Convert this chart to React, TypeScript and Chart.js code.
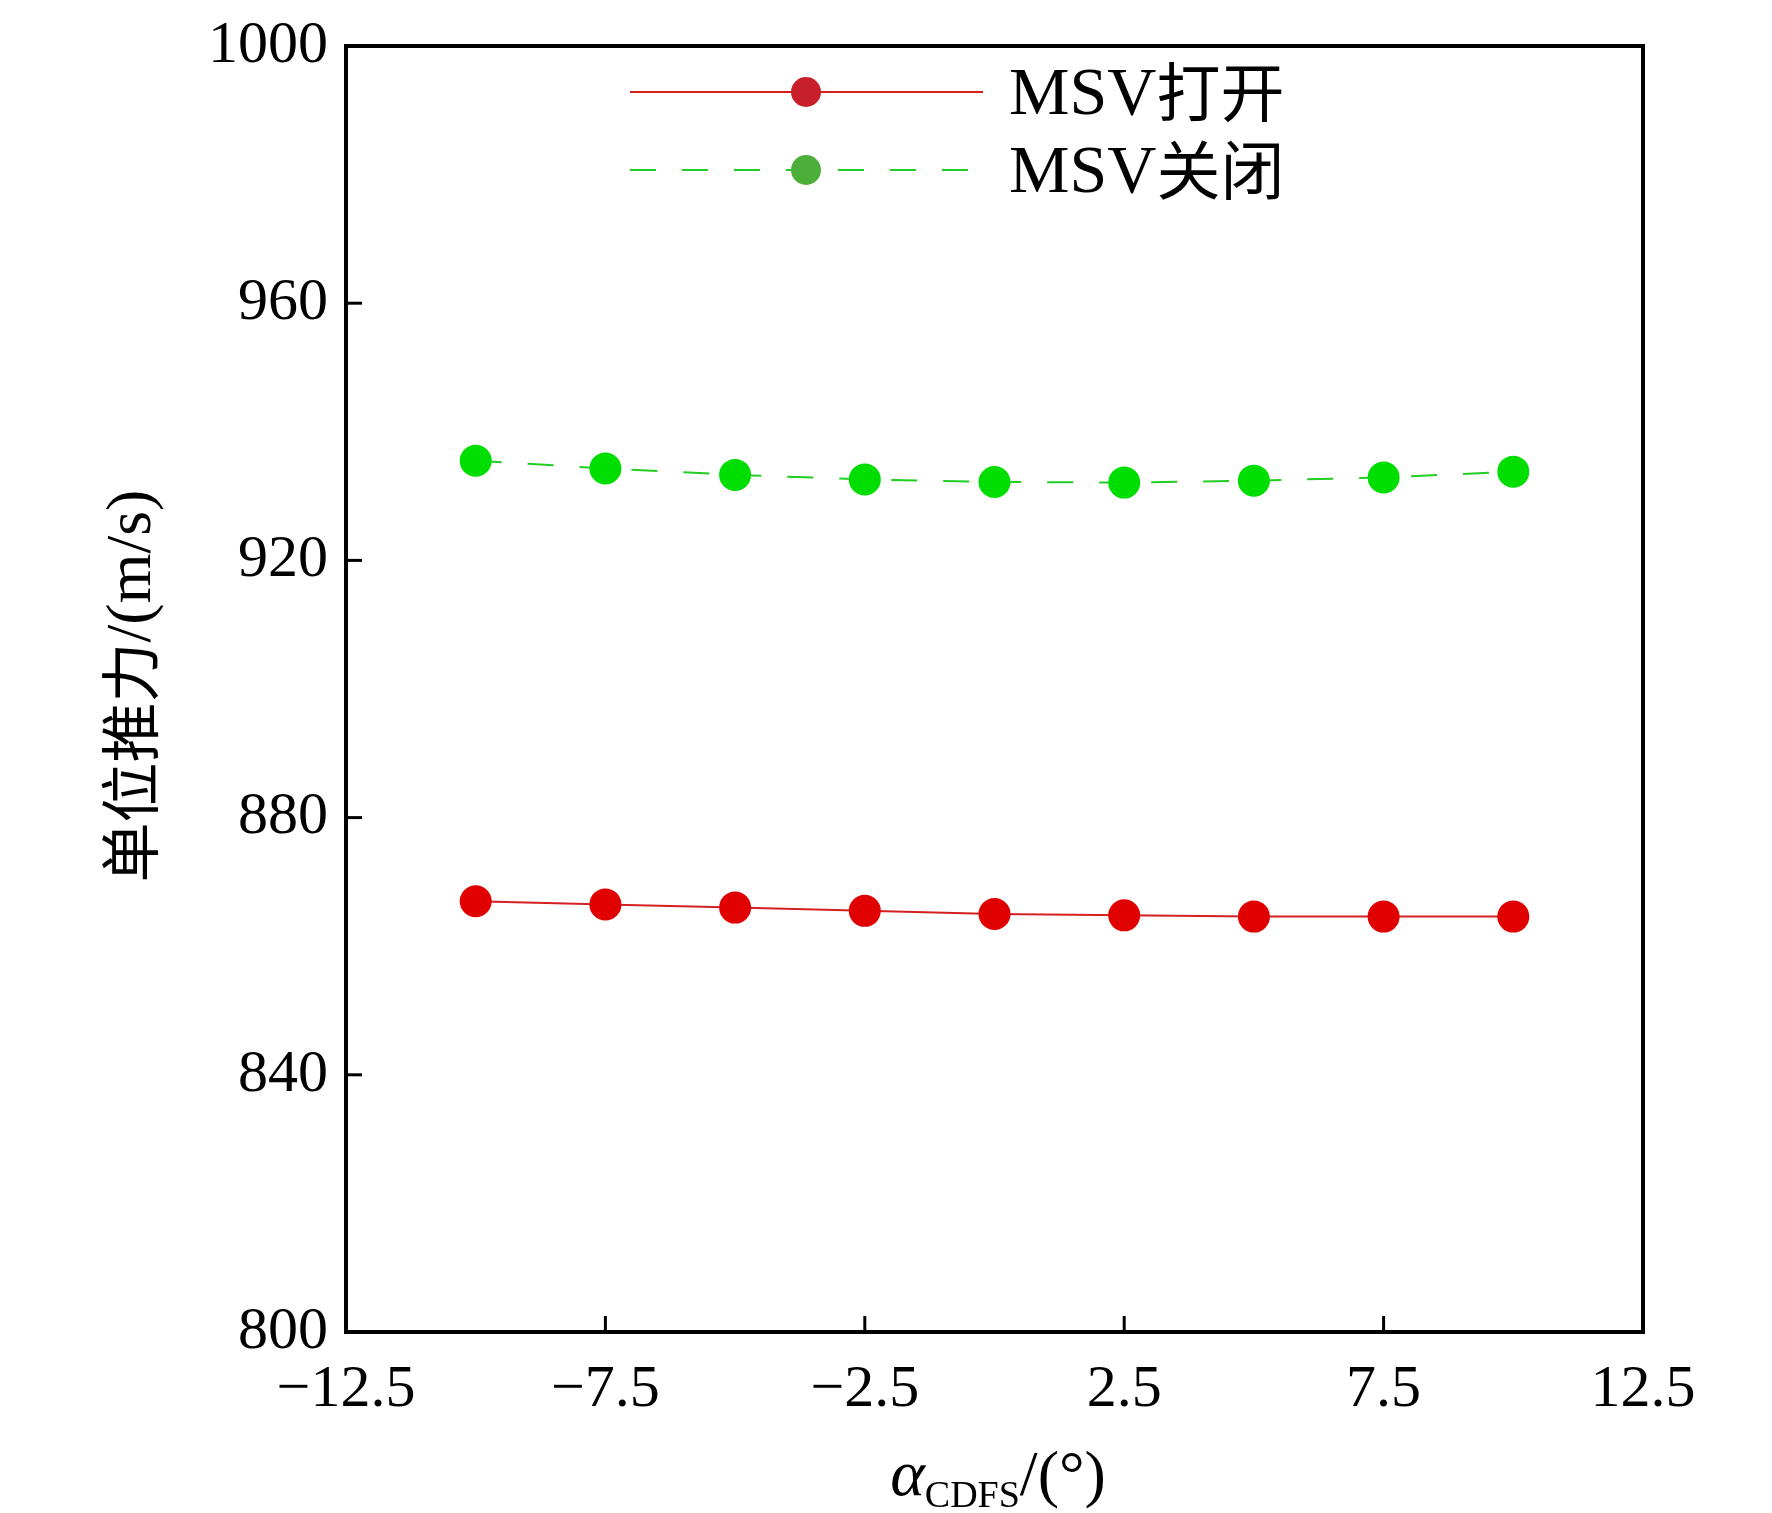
import React, { useEffect, useRef } from "react";
import { Chart, registerables } from "chart.js";
Chart.register(...registerables);

const xValues = [-10, -7.5, -5, -2.5, 0, 2.5, 5, 7.5, 10];
const msvOpen = [867, 866.5, 866, 865.5, 865, 864.8, 864.6, 864.6, 864.6];
const msvClosed = [935.5, 934.3, 933.3, 932.6, 932.2, 932.1, 932.4, 932.9, 933.8];
const seriesNames = ["MSV打开", "MSV关闭"];
const FONT = "'Liberation Serif', 'Times New Roman', serif";
const CJK = "'Noto Sans CJK SC', serif";

const decor = {
  id: "decor",
  afterDraw(chart: any) {
    const { ctx, chartArea: a, scales } = chart;
    ctx.save();
    ctx.strokeStyle = "#000";
    ctx.lineWidth = 4;
    ctx.strokeRect(a.left, a.top, a.right - a.left, a.bottom - a.top);
    ctx.lineWidth = 3;
    [-7.5, -2.5, 2.5, 7.5].forEach((v) => {
      const x = scales.x.getPixelForValue(v);
      ctx.beginPath(); ctx.moveTo(x, a.bottom); ctx.lineTo(x, a.bottom - 16); ctx.stroke();
    });
    [840, 880, 920, 960].forEach((v) => {
      const y = scales.y.getPixelForValue(v);
      ctx.beginPath(); ctx.moveTo(a.left, y); ctx.lineTo(a.left + 16, y); ctx.stroke();
    });
    const items = [
      { y: 92, color: "#d42020", mk: "#c8202a", dash: [] as number[] },
      { y: 170, color: "#22cc22", mk: "#4caf3a", dash: [26, 26] },
    ];
    items.forEach((it, i) => {
      ctx.strokeStyle = it.color; ctx.lineWidth = 2; ctx.setLineDash(it.dash);
      ctx.beginPath(); ctx.moveTo(630, it.y); ctx.lineTo(983, it.y); ctx.stroke();
      ctx.setLineDash([]);
      ctx.fillStyle = it.mk; ctx.beginPath(); ctx.arc(806, it.y, 15, 0, Math.PI * 2); ctx.fill();
      ctx.fillStyle = "#000"; ctx.textBaseline = "middle"; ctx.textAlign = "left";
      ctx.font = `68px ${FONT}`;
      ctx.fillText("MSV", 1009, it.y + 4);
      const w = ctx.measureText("MSV").width;
      ctx.font = `64px ${CJK}`;
      ctx.fillText(seriesNames[i].slice(3), 1009 + w, it.y);
    });
    ctx.save();
    ctx.translate(130, 686); ctx.rotate(-Math.PI / 2);
    ctx.textAlign = "left"; ctx.textBaseline = "middle";
    ctx.font = `60px ${CJK}`;
    const cj = "单位推力";
    const rest = "/(m/s)";
    const w1 = ctx.measureText(cj).width;
    ctx.font = `64px ${FONT}`;
    const w2 = ctx.measureText(rest).width;
    const sx = -(w1 + w2) / 2;
    ctx.font = `60px ${CJK}`; ctx.fillText(cj, sx, 0);
    ctx.font = `64px ${FONT}`; ctx.fillText(rest, sx + w1, 3);
    ctx.restore();
    ctx.textBaseline = "alphabetic"; ctx.textAlign = "left";
    const p1 = "α", p2 = "CDFS", p3 = "/(°)";
    ctx.font = `italic 66px ${FONT}`; const a1 = ctx.measureText(p1).width;
    ctx.font = `38px ${FONT}`; const a2 = ctx.measureText(p2).width;
    ctx.font = `64px ${FONT}`; const a3 = ctx.measureText(p3).width;
    let x0 = 998 - (a1 + a2 + a3) / 2; const by = 1495;
    ctx.font = `italic 66px ${FONT}`; ctx.fillText(p1, x0, by); x0 += a1;
    ctx.font = `38px ${FONT}`; ctx.fillText(p2, x0, by + 12); x0 += a2;
    ctx.font = `64px ${FONT}`; ctx.fillText(p3, x0, by);
    ctx.restore();
  },
};

export default function App() {
  const ref = useRef<HTMLCanvasElement>(null);
  useEffect(() => {
    document.body.style.margin = "0";
    const chart = new Chart(ref.current!, {
      type: "line",
      data: {
        datasets: [
          {
            label: seriesNames[0],
            data: xValues.map((x, i) => ({ x, y: msvOpen[i] })),
            borderColor: "#d42020", backgroundColor: "#e00000",
            borderWidth: 2, pointRadius: 16, pointBorderWidth: 0,
          },
          {
            label: seriesNames[1],
            data: xValues.map((x, i) => ({ x, y: msvClosed[i] })),
            borderColor: "#22cc22", backgroundColor: "#00dd00",
            borderWidth: 2, borderDash: [26, 26], pointRadius: 16, pointBorderWidth: 0,
          },
        ],
      },
      options: {
        animation: false, responsive: false,
        layout: { padding: { top: 34, right: 129, left: 0, bottom: 0 } },
        plugins: { legend: { display: false }, tooltip: { enabled: false } },
        scales: {
          x: {
            type: "linear", min: -12.5, max: 12.5,
            grid: { display: false }, border: { display: false },
            afterBuildTicks: (s: any) => { s.ticks = [-12.5, -7.5, -2.5, 2.5, 7.5, 12.5].map((v) => ({ value: v })); },
            afterFit: (s: any) => { s.height = 181; },
            ticks: { color: "#000", font: { family: FONT, size: 60 }, padding: 14, maxRotation: 0,
              callback: (v: any) => (v < 0 ? "\u2212" + Math.abs(v) : String(v)) },
          },
          y: {
            min: 800, max: 1000,
            grid: { display: false }, border: { display: false },
            afterFit: (s: any) => { s.width = 346; },
            ticks: { stepSize: 40, color: "#000", font: { family: FONT, size: 60 }, padding: 10,
              callback: (v: any) => String(v) },
          },
        },
      },
      plugins: [decor],
    });
    return () => chart.destroy();
  }, []);
  return <canvas ref={ref} width={1772} height={1513} style={{ display: "block" }} />;
}
